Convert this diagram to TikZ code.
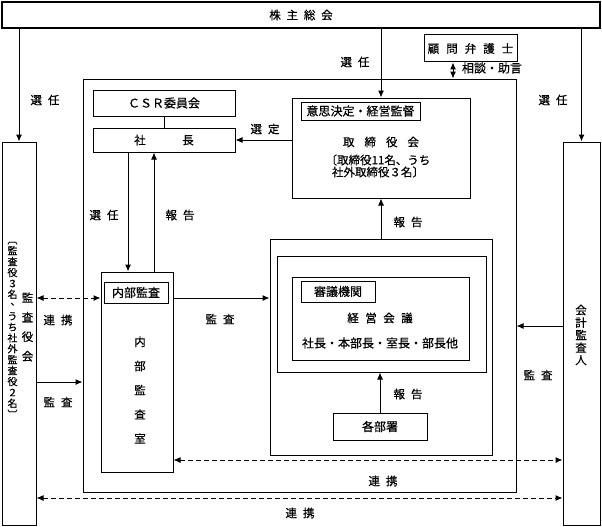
\documentclass[tikz,border=0pt]{standalone}
\usepackage{fontspec}
\setmainfont{Noto Sans CJK JP}[FakeBold=0.5]
\usepackage{graphicx}
\usetikzlibrary{arrows.meta}
\makeatletter
\newcommand\lsp[2]{\def\lsp@sep{\kern#1}\lsp@first#2\relax}
\def\lsp@first#1{#1\lsp@rest}
\def\lsp@rest#1{\ifx\relax#1\else\lsp@sep#1\expandafter\lsp@rest\fi}
\makeatother
\newcommand\fs[1]{\fontsize{#1}{#1}\selectfont}
\begin{document}
\begin{tikzpicture}[x=1pt,y=-1pt,
  box/.style={draw, line width=1pt, fill=white, inner sep=0pt, font=\fs{11.5}},
  lbl/.style={inner sep=0pt, font=\fs{11.5}},
  arr/.style={line width=1pt, -{Latex[length=7pt,width=6pt]}},
  dbl/.style={line width=1pt, {Latex[length=7pt,width=6pt]}-{Latex[length=7pt,width=6pt]}},
  dsh/.style={dbl, dash pattern=on 5pt off 3pt},
  ln/.style={line width=1pt}]
\path[fill=white, use as bounding box] (0,0) rectangle (602,527);

% boxes
\node[box, line width=1.3pt, minimum width=598pt, minimum height=26pt] (top) at (301,15) {\lsp{5.8pt}{株主総会}};
\node[box, minimum width=34pt, minimum height=383pt] (kansa) at (19,333.5) {};
\node[box, minimum width=37pt, minimum height=383pt] (kaikei) at (581.5,333.5) {};
\node[box, minimum width=93pt, minimum height=27pt] (bengo) at (470.5,48.5) {\lsp{7pt}{顧問弁護士}};
\node[box, minimum width=433pt, minimum height=413pt] (co) at (299.5,285.5) {};
\node[box, minimum width=142pt, minimum height=26pt, font=\fs{12}] (csr) at (164,103) {ＣＳＲ委員会};
\node[box, minimum width=142pt, minimum height=24pt] (pres) at (164,140) {\lsp{36.5pt}{社長}};
\node[box, minimum width=178pt, minimum height=100pt] (board) at (381,148) {};
\node[box, minimum width=119pt, minimum height=18pt, font=\fs{12}] (boardlbl) at (360.5,111) {意思決定・経営監督};
\node[lbl] (boardname) at (381,142) {\lsp{10pt}{取締役会}};
\node[lbl, align=center, font=\fontsize{11.5}{12}\selectfont] (boardmem) at (378,166) {〔取締役11名、うち\\社外取締役３名〕};
\node[box, minimum width=222pt, minimum height=216pt] (mout) at (381,347) {};
\node[box, minimum width=209pt, minimum height=116pt] (mmid) at (381.5,314) {};
\node[box, minimum width=177pt, minimum height=83pt] (minr) at (380.5,318.5) {};
\node[box, minimum width=74pt, minimum height=21pt, font=\fs{12}] (shingi) at (338,291.5) {審議機関};
\node[lbl] (keiei) at (380,318) {\lsp{6.5pt}{経営会議}};
\node[lbl, font=\fs{12}] (members) at (380,343) {社長・本部長・室長・部長他};
\node[box, minimum width=94pt, minimum height=27pt, font=\fs{12}] (depts) at (380,426.5) {各部署};
\node[box, minimum width=72pt, minimum height=200pt] (audit) at (137,372) {};
\node[box, minimum width=64pt, minimum height=21pt, font=\fs{12}] (auditlbl) at (136,292.5) {内部監査};
\node[lbl, align=center, font=\fontsize{11.5}{24.2}\selectfont] (auditname) at (140,390) {内\\部\\監\\査\\室};

% vertical texts
\node[lbl, align=center, font=\fontsize{11.5}{19.5}\selectfont] (kansaname) at (27.5,327) {監\\査\\役\\会};
\node[lbl, align=center, font=\fontsize{10}{10.9}\selectfont] (kansamem) at (12.5,327) {\rotatebox[origin=c]{-90}{〔}\\監\\査\\役\\３\\名\\\makebox[1em][l]{\kern0.3em\raisebox{0.4em}{、}}\\う\\ち\\社\\外\\監\\査\\役\\２\\名\\\rotatebox[origin=c]{-90}{〕}};
\node[lbl, align=center, font=\fontsize{11.5}{12.5}\selectfont] (kaikeiname) at (581,335) {会\\計\\監\\査\\人};

% helper coordinates
\coordinate (y298) at (0,298);
\coordinate (y382) at (0,382);
\coordinate (y326) at (0,326);
\coordinate (y460) at (0,460);
\coordinate (y498) at (0,498);
\coordinate (x453) at (453,0);
\coordinate (x128) at (128,0);
\coordinate (x154) at (154,0);

% connectors
\draw[arr] (top.south -| kansa) -- (kansa.north);
\draw[arr] (top.south -| board) -- (board.north);
\draw[arr] (top.south -| kaikei) -- (kaikei.north);
\draw[dbl] (bengo.south -| x453) -- (co.north -| x453);
\draw[ln] (csr) -- (pres);
\draw[arr] (board.west |- pres) -- (pres.east);
\draw[arr] (pres.south -| x128) -- (audit.north -| x128);
\draw[arr] (audit.north -| x154) -- (pres.south -| x154);
\draw[arr] (mout.north) -- (board.south -| mout.north);
\draw[arr] (depts.north) -- (mmid.south -| depts.north);
\draw[arr] (audit.east |- y298) -- (mout.west |- y298);
\draw[dsh] (kansa.east |- y298) -- (audit.west |- y298);
\draw[arr] (kansa.east |- y382) -- (co.west |- y382);
\draw[arr] (kaikei.west |- y326) -- (co.east |- y326);
\draw[dsh] (audit.east |- y460) -- (kaikei.west |- y460);
\draw[dsh] (kansa.east |- y498) -- (kaikei.west |- y498);

% labels
\node[lbl] (l1) at (355,62) {\lsp{6pt}{選任}};
\node[lbl] (l2) at (45,100) {\lsp{6pt}{選任}};
\node[lbl] (l3) at (553,100) {\lsp{6pt}{選任}};
\node[lbl, font=\fs{12}] (l4) at (492,68) {相談・助言};
\node[lbl] (l5) at (265,129) {\lsp{6pt}{選定}};
\node[lbl] (l6) at (104,215) {\lsp{6pt}{選任}};
\node[lbl] (l7) at (180,215) {\lsp{6pt}{報告}};
\node[lbl] (l8) at (408,222) {\lsp{6pt}{報告}};
\node[lbl] (l9) at (220,319) {\lsp{6pt}{監査}};
\node[lbl] (l10) at (408,394) {\lsp{6pt}{報告}};
\node[lbl] (l11) at (58,320) {\lsp{6pt}{連携}};
\node[lbl] (l12) at (58,402) {\lsp{6pt}{監査}};
\node[lbl] (l13) at (538,375) {\lsp{6pt}{監査}};
\node[lbl] (l14) at (383,481) {\lsp{6pt}{連携}};
\node[lbl] (l15) at (300,513) {\lsp{6pt}{連携}};
\end{tikzpicture}
\end{document}
